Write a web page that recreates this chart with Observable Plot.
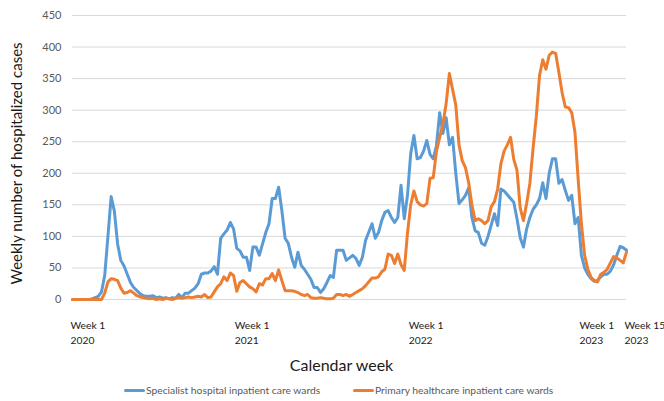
<!DOCTYPE html>
<html><head><meta charset="utf-8">
<script src="https://cdn.jsdelivr.net/npm/d3@7"></script>
<script src="https://cdn.jsdelivr.net/npm/@observablehq/plot@0.6"></script>
<style>
body{margin:0;background:#fff;font-family:Lato,"Open Sans",sans-serif;}
#wrap{position:relative;width:664px;height:401px;overflow:hidden;}
#legend{position:absolute;top:380px;left:0;width:664px;height:21px;font-size:10.3px;color:#595959;}
.item{position:absolute;top:4px;display:flex;align-items:center;white-space:nowrap;}
.sw{display:inline-block;width:21px;height:3px;border-radius:2px;margin-right:1px;}
</style></head><body>
<div id="wrap"><div id="chart"></div><div id="legend"></div></div>
<script>
// Weekly index from week 1 2020 (0) to week 15 2023 (172)
const weekIndex = d3.range(173);
const specialist = [
 0,0,0,0,0,0,1,3,5,12,
 38,100,163,140,88,62,53,40,27,19,
 14,9,6,5,5,6,3,4,2,3,
 1,3,2,8,3,10,10,14,18,25,
 40,42,42,45,52,40,97,104,110,122,
 112,81,77,67,67,46,83,83,70,88,
 106,120,160,160,178,141,97,89,67,51,
 75,54,48,40,32,19,19,11,17,27,
 38,35,78,78,78,62,66,70,65,54,
 67,94,107,120,97,106,125,138,141,130,
 122,130,181,128,165,231,260,223,225,235,
 252,230,223,244,296,263,288,245,257,200,
 152,158,165,177,130,109,106,89,86,100,
 118,136,117,175,172,166,160,154,128,98,
 83,112,130,143,150,160,185,160,200,223,
 223,184,190,173,157,165,120,130,70,50,
 40,33,29,30,36,40,40,45,55,70,
 84,82,78
];
const primary = [
 0,0,0,0,0,0,0,0,0,0,
 10,28,33,32,30,18,10,11,14,10,
 6,4,3,2,1,2,0,1,0,2,
 1,0,2,3,2,3,4,3,4,5,
 4,8,3,4,12,20,25,36,30,42,
 38,13,27,30,25,20,17,12,25,23,
 33,33,41,30,47,30,14,14,14,13,
 11,8,6,8,3,2,2,3,2,1,
 1,2,8,8,6,8,5,8,11,14,
 17,22,28,34,34,36,44,48,72,70,
 57,72,55,46,105,150,172,155,150,148,
 152,192,193,235,257,278,310,358,333,308,
 245,220,209,185,150,125,128,125,120,125,
 147,155,175,215,235,245,257,222,205,145,
 125,152,184,240,290,355,380,365,387,392,
 390,360,328,305,304,296,265,190,120,70,
 48,35,30,28,40,43,48,58,68,66,
 62,58,75
];
const tickIdx = [0, 51, 105, 158, 172];
const tickLabels = ["Week 1\n2020", "Week 1\n2021", "Week 1\n2022", "Week 1\n2023", "Week 15\n2023"];
const yTicks = [0, 50, 100, 150, 200, 250, 300, 350, 400, 450];
const seriesNames = ["Specialist hospital inpatient care wards", "Primary healthcare inpatient care wards"];
const seriesColors = ["#5B9BD5", "#ED7D31"];
const xTitle = "Calendar week";
const yTitle = "Weekly number of hospitalized cases";

const rows = (vals, name) => weekIndex.map(i => ({week: i, value: vals[i], series: name}));

const chart = Plot.plot({
  width: 664, height: 380,
  marginLeft: 72, marginRight: 38, marginTop: 15, marginBottom: 81,
  style: {fontFamily: "Lato, 'Open Sans', sans-serif", background: "#fff", overflow: "visible"},
  x: {domain: [0, 172]},
  y: {domain: [0, 450]},
  marks: [
    Plot.gridY(yTicks, {stroke: "#d9d9d9", strokeOpacity: 1, strokeWidth: 1}),
    Plot.axisY(yTicks, {tickSize: 0, tickPadding: 11, fontSize: 11, fill: "#595959", label: null}),
    Plot.axisX(tickIdx, {tickSize: 0, tickPadding: 19, fontSize: 10.3, fill: "#1a1a1a", textAnchor: "start", lineHeight: 1.45, dx: -2,
      tickFormat: d => tickLabels[tickIdx.indexOf(d)], label: null}),
    Plot.line(rows(specialist, seriesNames[0]), {x: "week", y: "value", stroke: seriesColors[0], strokeWidth: 3, strokeLinejoin: "round"}),
    Plot.line(rows(primary, seriesNames[1]), {x: "week", y: "value", stroke: seriesColors[1], strokeWidth: 3, strokeLinejoin: "round"}),
    Plot.text([xTitle], {frameAnchor: "bottom", dx: -8, dy: 71, fontSize: 16, fill: "#1a1a1a"}),
    Plot.text([yTitle], {frameAnchor: "left", textAnchor: "middle", dx: -55, dy: 6, rotate: -90, fontSize: 15, fill: "#1a1a1a"})
  ]
});
document.getElementById("chart").appendChild(chart);

const legend = document.getElementById("legend");
const lefts = [124, 353];
seriesNames.forEach((n, i) => {
  const it = document.createElement("div");
  it.className = "item";
  it.style.left = lefts[i] + "px";
  it.innerHTML = `<span class="sw" style="background:${seriesColors[i]}"></span><span>${n}</span>`;
  legend.appendChild(it);
});
</script>
</body></html>
